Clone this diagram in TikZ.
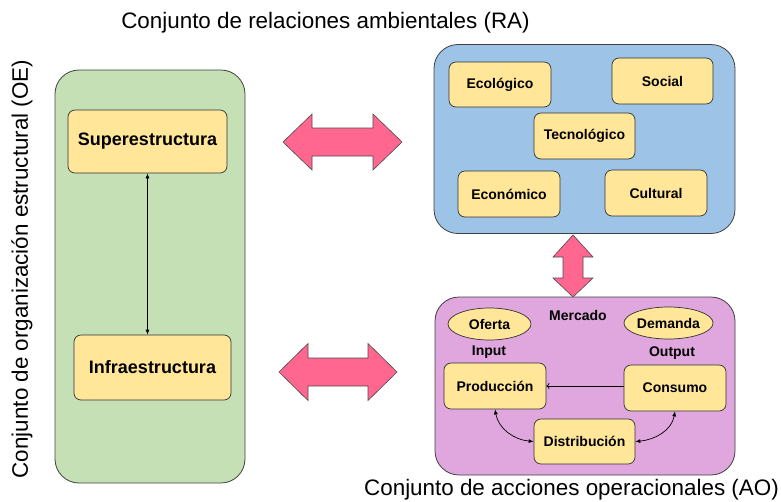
\documentclass[tikz,border=0pt]{standalone}
\usepackage{fontspec}
\setmainfont{Liberation Sans}
\usepackage[dvipsnames,svgnames]{xcolor}
\usepackage{tikz}
\usetikzlibrary{positioning,shapes.geometric,arrows.meta}
\definecolor{verdeOE}{HTML}{C5E0B4}
\definecolor{azulRA}{HTML}{9DC3E6}
\definecolor{lilaAO}{HTML}{E0A6DE}
\definecolor{amarillo}{HTML}{FFE699}
\definecolor{rosa}{HTML}{FF6690}
\tikzset{conjunto/.style={draw=black!75,rounded corners=24pt,line width=0.8pt},
         caja/.style={draw=black!80,fill=amarillo,rounded corners=7pt,line width=0.7pt,font=\fontsize{14}{16}\selectfont\bfseries},
         cajagrande/.style={caja,font=\fontsize{18}{21}\selectfont\bfseries},
         ovalo/.style={ellipse,draw=black!80,fill=amarillo,line width=0.7pt,inner sep=0pt,font=\fontsize{14}{16}\selectfont\bfseries},
         rotulo/.style={font=\fontsize{14}{16}\selectfont\bfseries},
         titulo/.style={font=\fontsize{22.4}{26}\selectfont},
         flechota/.style={draw=black!70,fill=rosa,line width=0.6pt,line join=miter},
         flechita/.style={line width=0.7pt,{Latex[length=5pt,width=4pt]}-{Latex[length=5pt,width=4pt]}}}
\begin{document}
\begin{tikzpicture}[x=1pt,y=-1pt]
            \useasboundingbox (0,0) rectangle (781,501);
            % conjuntos
            \node[conjunto,fill=verdeOE,minimum width=190,minimum height=413] (OE) at (150,276.5) {};
            \node[conjunto,fill=azulRA,minimum width=301,minimum height=189] (RA) at (584.5,139) {};
            \node[conjunto,fill=lilaAO,minimum width=300,minimum height=178] (AO) at (585,386) {};
            \node[titulo] (tRA) at (325.5,23) {Conjunto de relaciones ambientales (RA)};
            \node[titulo] (tAO) at (571.5,490) {Conjunto de acciones operacionales (AO)};
            \node[titulo,rotate=90] (tOE) at (22,269) {Conjunto de organización estructural (OE)};
            % OE
            \node[cajagrande,minimum width=159,minimum height=63] (sup) at (147.5,141.5) {Superestructura};
            \node[cajagrande,minimum width=157,minimum height=65] (inf) at (152.5,367.5) {Infraestructura};
            \draw[flechita] (sup.south) -- (sup.south |- inf.north);
            % RA
            \node[caja,minimum width=102,minimum height=45] (eco) at (500,84.5) {Ecológico};
            \node[caja,minimum width=101,minimum height=46] (soc) at (662.5,81) {Social};
            \node[caja,minimum width=101,minimum height=46] (tec) at (584.5,136) {Tecnológico};
            \node[caja,minimum width=102,minimum height=46] (econ) at (509,194) {Económico};
            \node[caja,minimum width=102,minimum height=46] (cul) at (656,193) {Cultural};
            % AO
            \node[rotulo] (mer) at (578,315) {Mercado};
            \node[ovalo,minimum width=83,minimum height=32] (ofe) at (489.5,324) {Oferta};
            \node[ovalo,minimum width=89,minimum height=32] (dem) at (668.5,323) {Demanda};
            \node[rotulo] (inp) at (489,352) {Input};
            \node[rotulo] (out) at (672,353) {Output};
            \node[caja,minimum width=102,minimum height=46] (prod) at (495,386) {Producción};
            \node[caja,minimum width=102,minimum height=46] (cons) at (675,388) {Consumo};
            \node[caja,minimum width=101,minimum height=45] (dist) at (584.5,441.5) {Distribución};
            \draw[flechita,<-] (prod.east) -- (prod.east -| cons.west);
            \draw[flechita] (prod.south) to[out=-80,in=175] (dist.west);
            \draw[flechita] (cons.south) to[out=-100,in=5] (dist.east);
            % flechas entre conjuntos
            \draw[flechota] (283,142) -- (312,114) -- (312,128) -- (373,128) -- (373,114) -- (402,142)
                -- (373,170) -- (373,156) -- (312,156) -- (312,170) -- cycle;
            \draw[flechota] (279,372) -- (308,343.5) -- (308,358) -- (368,358) -- (368,343.5) -- (397,372)
                -- (368,400.5) -- (368,386) -- (308,386) -- (308,400.5) -- cycle;
            \draw[flechota] (573,235) -- (593,257) -- (583,257) -- (583,278) -- (593,278) -- (573,297)
                -- (553,278) -- (563,278) -- (563,257) -- (553,257) -- cycle;
        \end{tikzpicture}
\end{document}
